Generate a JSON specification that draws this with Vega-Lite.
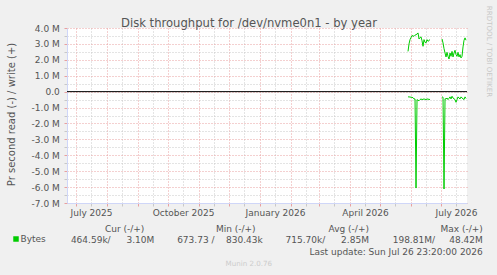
{
  "$schema": "https://vega.github.io/schema/vega-lite/v6.json",
  "width": 400,
  "height": 175,
  "autosize": {"type": "none"},
  "padding": {"left": 67, "top": 28, "right": 30, "bottom": 72},
  "background": "#F0F0F0",
  "view": {"fill": "#FFFFFF", "stroke": null},
  "config": {"font": "DejaVu Sans"},
  "data": {"values": [
    {"date": "2026-05-29T00:00:00", "value": 2530000, "dir": "write", "seg": "w1", "series": "Bytes"},
    {"date": "2026-05-30T00:00:00", "value": 3000000, "dir": "write", "seg": "w1", "series": "Bytes"},
    {"date": "2026-05-31T00:00:00", "value": 3270000, "dir": "write", "seg": "w1", "series": "Bytes"},
    {"date": "2026-06-01T00:00:00", "value": 3400000, "dir": "write", "seg": "w1", "series": "Bytes"},
    {"date": "2026-06-02T00:00:00", "value": 3520000, "dir": "write", "seg": "w1", "series": "Bytes"},
    {"date": "2026-06-03T00:00:00", "value": 3500000, "dir": "write", "seg": "w1", "series": "Bytes"},
    {"date": "2026-06-04T00:00:00", "value": 3480000, "dir": "write", "seg": "w1", "series": "Bytes"},
    {"date": "2026-06-05T00:00:00", "value": 3550000, "dir": "write", "seg": "w1", "series": "Bytes"},
    {"date": "2026-06-06T00:00:00", "value": 3580000, "dir": "write", "seg": "w1", "series": "Bytes"},
    {"date": "2026-06-07T00:00:00", "value": 3620000, "dir": "write", "seg": "w1", "series": "Bytes"},
    {"date": "2026-06-08T00:00:00", "value": 3690000, "dir": "write", "seg": "w1", "series": "Bytes"},
    {"date": "2026-06-09T00:00:00", "value": 3310000, "dir": "write", "seg": "w1", "series": "Bytes"},
    {"date": "2026-06-10T00:00:00", "value": 3400000, "dir": "write", "seg": "w1", "series": "Bytes"},
    {"date": "2026-06-11T00:00:00", "value": 3440000, "dir": "write", "seg": "w1", "series": "Bytes"},
    {"date": "2026-06-12T00:00:00", "value": 3200000, "dir": "write", "seg": "w1", "series": "Bytes"},
    {"date": "2026-06-13T00:00:00", "value": 2850000, "dir": "write", "seg": "w1", "series": "Bytes"},
    {"date": "2026-06-14T00:00:00", "value": 3270000, "dir": "write", "seg": "w1", "series": "Bytes"},
    {"date": "2026-06-15T00:00:00", "value": 3100000, "dir": "write", "seg": "w1", "series": "Bytes"},
    {"date": "2026-06-16T00:00:00", "value": 3060000, "dir": "write", "seg": "w1", "series": "Bytes"},
    {"date": "2026-06-17T00:00:00", "value": 3270000, "dir": "write", "seg": "w1", "series": "Bytes"},
    {"date": "2026-06-18T00:00:00", "value": 3160000, "dir": "write", "seg": "w1", "series": "Bytes"},
    {"date": "2026-06-19T00:00:00", "value": 3220000, "dir": "write", "seg": "w1", "series": "Bytes"},
    {"date": "2026-06-20T00:00:00", "value": 3270000, "dir": "write", "seg": "w1", "series": "Bytes"},
    {"date": "2026-07-02T00:00:00", "value": 3310000, "dir": "write", "seg": "w2", "series": "Bytes"},
    {"date": "2026-07-03T00:00:00", "value": 3060000, "dir": "write", "seg": "w2", "series": "Bytes"},
    {"date": "2026-07-04T00:00:00", "value": 2700000, "dir": "write", "seg": "w2", "series": "Bytes"},
    {"date": "2026-07-05T00:00:00", "value": 2430000, "dir": "write", "seg": "w2", "series": "Bytes"},
    {"date": "2026-07-06T00:00:00", "value": 2180000, "dir": "write", "seg": "w2", "series": "Bytes"},
    {"date": "2026-07-07T00:00:00", "value": 2470000, "dir": "write", "seg": "w2", "series": "Bytes"},
    {"date": "2026-07-08T00:00:00", "value": 2220000, "dir": "write", "seg": "w2", "series": "Bytes"},
    {"date": "2026-07-09T00:00:00", "value": 2050000, "dir": "write", "seg": "w2", "series": "Bytes"},
    {"date": "2026-07-10T00:00:00", "value": 2430000, "dir": "write", "seg": "w2", "series": "Bytes"},
    {"date": "2026-07-11T00:00:00", "value": 2220000, "dir": "write", "seg": "w2", "series": "Bytes"},
    {"date": "2026-07-12T00:00:00", "value": 2530000, "dir": "write", "seg": "w2", "series": "Bytes"},
    {"date": "2026-07-13T00:00:00", "value": 2180000, "dir": "write", "seg": "w2", "series": "Bytes"},
    {"date": "2026-07-14T00:00:00", "value": 2430000, "dir": "write", "seg": "w2", "series": "Bytes"},
    {"date": "2026-07-15T00:00:00", "value": 2600000, "dir": "write", "seg": "w2", "series": "Bytes"},
    {"date": "2026-07-16T00:00:00", "value": 2330000, "dir": "write", "seg": "w2", "series": "Bytes"},
    {"date": "2026-07-17T00:00:00", "value": 2220000, "dir": "write", "seg": "w2", "series": "Bytes"},
    {"date": "2026-07-18T00:00:00", "value": 2470000, "dir": "write", "seg": "w2", "series": "Bytes"},
    {"date": "2026-07-19T00:00:00", "value": 2180000, "dir": "write", "seg": "w2", "series": "Bytes"},
    {"date": "2026-07-20T00:00:00", "value": 2330000, "dir": "write", "seg": "w2", "series": "Bytes"},
    {"date": "2026-07-21T00:00:00", "value": 2120000, "dir": "write", "seg": "w2", "series": "Bytes"},
    {"date": "2026-07-22T00:00:00", "value": 2220000, "dir": "write", "seg": "w2", "series": "Bytes"},
    {"date": "2026-07-23T00:00:00", "value": 2810000, "dir": "write", "seg": "w2", "series": "Bytes"},
    {"date": "2026-07-24T00:00:00", "value": 3230000, "dir": "write", "seg": "w2", "series": "Bytes"},
    {"date": "2026-07-25T00:00:00", "value": 3380000, "dir": "write", "seg": "w2", "series": "Bytes"},
    {"date": "2026-07-26T00:00:00", "value": 3230000, "dir": "write", "seg": "w2", "series": "Bytes"},
    {"date": "2026-05-29T00:00:00", "value": -330000, "dir": "read", "seg": "r1", "series": "Bytes"},
    {"date": "2026-05-30T00:00:00", "value": -330000, "dir": "read", "seg": "r1", "series": "Bytes"},
    {"date": "2026-05-31T00:00:00", "value": -340000, "dir": "read", "seg": "r1", "series": "Bytes"},
    {"date": "2026-06-01T00:00:00", "value": -350000, "dir": "read", "seg": "r1", "series": "Bytes"},
    {"date": "2026-06-02T00:00:00", "value": -360000, "dir": "read", "seg": "r1", "series": "Bytes"},
    {"date": "2026-06-03T00:00:00", "value": -380000, "dir": "read", "seg": "r1", "series": "Bytes"},
    {"date": "2026-06-04T00:00:00", "value": -460000, "dir": "read", "seg": "r1", "series": "Bytes"},
    {"date": "2026-06-05T00:00:00", "value": -460000, "dir": "read", "seg": "r1", "series": "Bytes"},
    {"date": "2026-06-06T00:00:00", "value": -6060000, "dir": "read", "seg": "r1", "series": "Bytes"},
    {"date": "2026-06-07T00:00:00", "value": -500000, "dir": "read", "seg": "r1", "series": "Bytes"},
    {"date": "2026-06-08T00:00:00", "value": -550000, "dir": "read", "seg": "r1", "series": "Bytes"},
    {"date": "2026-06-09T00:00:00", "value": -570000, "dir": "read", "seg": "r1", "series": "Bytes"},
    {"date": "2026-06-10T00:00:00", "value": -500000, "dir": "read", "seg": "r1", "series": "Bytes"},
    {"date": "2026-06-11T00:00:00", "value": -460000, "dir": "read", "seg": "r1", "series": "Bytes"},
    {"date": "2026-06-12T00:00:00", "value": -500000, "dir": "read", "seg": "r1", "series": "Bytes"},
    {"date": "2026-06-13T00:00:00", "value": -480000, "dir": "read", "seg": "r1", "series": "Bytes"},
    {"date": "2026-06-14T00:00:00", "value": -460000, "dir": "read", "seg": "r1", "series": "Bytes"},
    {"date": "2026-06-15T00:00:00", "value": -480000, "dir": "read", "seg": "r1", "series": "Bytes"},
    {"date": "2026-06-16T00:00:00", "value": -500000, "dir": "read", "seg": "r1", "series": "Bytes"},
    {"date": "2026-06-17T00:00:00", "value": -470000, "dir": "read", "seg": "r1", "series": "Bytes"},
    {"date": "2026-06-18T00:00:00", "value": -460000, "dir": "read", "seg": "r1", "series": "Bytes"},
    {"date": "2026-06-19T00:00:00", "value": -500000, "dir": "read", "seg": "r1", "series": "Bytes"},
    {"date": "2026-06-20T00:00:00", "value": -480000, "dir": "read", "seg": "r1", "series": "Bytes"},
    {"date": "2026-07-02T00:00:00", "value": -330000, "dir": "read", "seg": "r2", "series": "Bytes"},
    {"date": "2026-07-03T00:00:00", "value": -350000, "dir": "read", "seg": "r2", "series": "Bytes"},
    {"date": "2026-07-04T00:00:00", "value": -6120000, "dir": "read", "seg": "r2", "series": "Bytes"},
    {"date": "2026-07-05T00:00:00", "value": -450000, "dir": "read", "seg": "r2", "series": "Bytes"},
    {"date": "2026-07-06T00:00:00", "value": -460000, "dir": "read", "seg": "r2", "series": "Bytes"},
    {"date": "2026-07-07T00:00:00", "value": -400000, "dir": "read", "seg": "r2", "series": "Bytes"},
    {"date": "2026-07-08T00:00:00", "value": -500000, "dir": "read", "seg": "r2", "series": "Bytes"},
    {"date": "2026-07-09T00:00:00", "value": -420000, "dir": "read", "seg": "r2", "series": "Bytes"},
    {"date": "2026-07-10T00:00:00", "value": -330000, "dir": "read", "seg": "r2", "series": "Bytes"},
    {"date": "2026-07-11T00:00:00", "value": -460000, "dir": "read", "seg": "r2", "series": "Bytes"},
    {"date": "2026-07-12T00:00:00", "value": -290000, "dir": "read", "seg": "r2", "series": "Bytes"},
    {"date": "2026-07-13T00:00:00", "value": -400000, "dir": "read", "seg": "r2", "series": "Bytes"},
    {"date": "2026-07-14T00:00:00", "value": -450000, "dir": "read", "seg": "r2", "series": "Bytes"},
    {"date": "2026-07-15T00:00:00", "value": -500000, "dir": "read", "seg": "r2", "series": "Bytes"},
    {"date": "2026-07-16T00:00:00", "value": -670000, "dir": "read", "seg": "r2", "series": "Bytes"},
    {"date": "2026-07-17T00:00:00", "value": -500000, "dir": "read", "seg": "r2", "series": "Bytes"},
    {"date": "2026-07-18T00:00:00", "value": -330000, "dir": "read", "seg": "r2", "series": "Bytes"},
    {"date": "2026-07-19T00:00:00", "value": -400000, "dir": "read", "seg": "r2", "series": "Bytes"},
    {"date": "2026-07-20T00:00:00", "value": -460000, "dir": "read", "seg": "r2", "series": "Bytes"},
    {"date": "2026-07-21T00:00:00", "value": -330000, "dir": "read", "seg": "r2", "series": "Bytes"},
    {"date": "2026-07-22T00:00:00", "value": -400000, "dir": "read", "seg": "r2", "series": "Bytes"},
    {"date": "2026-07-23T00:00:00", "value": -450000, "dir": "read", "seg": "r2", "series": "Bytes"},
    {"date": "2026-07-24T00:00:00", "value": -500000, "dir": "read", "seg": "r2", "series": "Bytes"},
    {"date": "2026-07-25T00:00:00", "value": -330000, "dir": "read", "seg": "r2", "series": "Bytes"},
    {"date": "2026-07-26T00:00:00", "value": -430000, "dir": "read", "seg": "r2", "series": "Bytes"}
  ]},
  "layer": [
    {
      "transform": [{"filter": "datum.dir == 'write'"}],
      "mark": {"type": "line", "strokeWidth": 1},
      "encoding": {
        "x": {
          "field": "date", "type": "temporal",
          "scale": {"domain": [{"year": 2025, "month": 6, "date": 21, "hours": 23, "minutes": 20}, {"year": 2026, "month": 7, "date": 26, "hours": 23, "minutes": 20}]},
          "axis": {
            "orient": "bottom",
            "values": [
              {"year": 2025, "month": 7, "date": 1}, {"year": 2025, "month": 7, "date": 16},
              {"year": 2025, "month": 8, "date": 1}, {"year": 2025, "month": 8, "date": 16},
              {"year": 2025, "month": 9, "date": 1}, {"year": 2025, "month": 9, "date": 16},
              {"year": 2025, "month": 10, "date": 1}, {"year": 2025, "month": 10, "date": 16},
              {"year": 2025, "month": 11, "date": 1}, {"year": 2025, "month": 11, "date": 16},
              {"year": 2025, "month": 12, "date": 1}, {"year": 2025, "month": 12, "date": 16},
              {"year": 2026, "month": 1, "date": 1}, {"year": 2026, "month": 1, "date": 16},
              {"year": 2026, "month": 2, "date": 1}, {"year": 2026, "month": 2, "date": 16},
              {"year": 2026, "month": 3, "date": 1}, {"year": 2026, "month": 3, "date": 16},
              {"year": 2026, "month": 4, "date": 1}, {"year": 2026, "month": 4, "date": 16},
              {"year": 2026, "month": 5, "date": 1}, {"year": 2026, "month": 5, "date": 16},
              {"year": 2026, "month": 6, "date": 1}, {"year": 2026, "month": 6, "date": 16},
              {"year": 2026, "month": 7, "date": 1}, {"year": 2026, "month": 7, "date": 16}
            ],
            "grid": true,
            "gridColor": {"condition": {"test": "date(datum.value) == 1", "value": "#E8A0A0"}, "value": "#C8C8C8"},
            "gridDash": [1, 2],
            "gridWidth": 1,
            "domain": true, "domainColor": "#CFD6F8", "domainWidth": 1,
            "ticks": true, "tickSize": 3,
            "tickColor": {"condition": {"test": "date(datum.value) == 1", "value": "#E8A0A0"}, "value": "#C8C8C8"},
            "labelExpr": "date(datum.value) == 16 && month(datum.value) % 3 == 0 ? timeFormat(datum.value, '%B %Y') : ''",
            "labelFontSize": 9, "labelColor": "#555555", "labelPadding": 2,
            "labelOverlap": false, "labelFlush": false, "labelBound": false, "labelAlign": "center",
            "title": [
              "Cur (-/+)\u00a0\u00a0\u00a0\u00a0\u00a0\u00a0\u00a0\u00a0\u00a0\u00a0\u00a0\u00a0\u00a0\u00a0\u00a0\u00a0\u00a0\u00a0\u00a0\u00a0\u00a0\u00a0\u00a0\u00a0\u00a0Min (-/+)\u00a0\u00a0\u00a0\u00a0\u00a0\u00a0\u00a0\u00a0\u00a0\u00a0\u00a0\u00a0\u00a0\u00a0\u00a0\u00a0\u00a0\u00a0\u00a0\u00a0\u00a0\u00a0\u00a0\u00a0\u00a0\u2006Avg (-/+)\u00a0\u00a0\u00a0\u00a0\u00a0\u00a0\u00a0\u00a0\u00a0\u00a0\u00a0\u00a0\u00a0\u00a0\u00a0\u00a0\u00a0\u00a0\u00a0\u00a0\u00a0\u00a0\u00a0\u00a0\u00a0Max (-/+)\u2006",
              "464.59k/\u00a0\u00a0\u00a0\u00a0\u00a0\u20063.10M\u00a0\u00a0\u00a0\u00a0\u00a0\u00a0\u00a0\u00a0673.73\u00a0/\u00a0\u00a0\u00a0\u00a0830.43k\u00a0\u00a0\u00a0\u00a0\u00a0\u00a0\u00a0\u00a0715.70k/\u00a0\u00a0\u00a0\u00a0\u00a0\u20062.85M\u00a0\u00a0\u00a0\u00a0\u00a0\u00a0\u00a0\u00a0\u200a198.81M/\u00a0\u00a0\u00a0\u00a0\u00a048.42M",
              "Last update: Sun Jul 26 23:20:00 2026"
            ],
            "titleX": 415.3, "titleY": 28, "titleAlign": "right", "titleBaseline": "alphabetic",
            "titleAngle": 0, "titleFontSize": 9, "titleFontWeight": "normal", "titleColor": "#555555",
            "titleLineHeight": 11.7, "titleLimit": 2000
          }
        },
        "y": {
          "field": "value", "type": "quantitative",
          "scale": {"domain": [-7000000, 4000000], "nice": false, "zero": false},
          "axis": {
            "orient": "left",
            "values": [-7000000, -6500000, -6000000, -5500000, -5000000, -4500000, -4000000, -3500000, -3000000, -2500000, -2000000, -1500000, -1000000, -500000, 0, 500000, 1000000, 1500000, 2000000, 2500000, 3000000, 3500000, 4000000],
            "grid": true,
            "gridColor": {"condition": {"test": "abs(datum.value) % 1000000 == 0", "value": "#E8A0A0"}, "value": "#C8C8C8"},
            "gridDash": [1, 2], "gridWidth": 1,
            "domain": true, "domainColor": "#CFD6F8", "domainWidth": 1,
            "ticks": true, "tickSize": 3,
            "tickColor": {"condition": {"test": "abs(datum.value) % 1000000 == 0", "value": "#E8A0A0"}, "value": "#C8C8C8"},
            "labelExpr": "datum.value == 0 ? '0.0' : (abs(datum.value) % 1000000 == 0 ? (datum.value < 0 ? '-' : '') + format(abs(datum.value) / 1000000, '.1f') + ' M' : '')",
            "labelFontSize": 9, "labelColor": "#555555", "labelPadding": 4.7,
            "labelOverlap": false, "labelFlush": false, "labelBound": false,
            "title": "Pr second read (-) / write (+)",
            "titleX": -56, "titleY": 86, "titleAngle": -90, "titleAlign": "center", "titleBaseline": "middle",
            "titleFontSize": 10, "titleFontWeight": "normal", "titleColor": "#555555"
          }
        },
        "color": {
          "field": "series", "type": "nominal",
          "scale": {"range": ["#00CC00"]},
          "legend": {
            "orient": "none", "legendX": -55.5, "legendY": 206.5, "title": null,
            "symbolType": "square", "symbolSize": 30, "symbolFillColor": "#00CC00", "symbolStrokeWidth": 0,
            "labelFontSize": 9, "labelColor": "#555555", "labelOffset": 0, "padding": 0
          }
        },
        "detail": {"field": "seg"}
      }
    },
    {
      "data": {"values": [{"line": "zero"}]},
      "mark": {"type": "rule", "color": "#000000", "strokeWidth": 1},
      "encoding": {
        "x": {
          "datum": {"year": 2025, "month": 6, "date": 21, "hours": 23, "minutes": 20}, "type": "temporal",
          "scale": {"domain": [{"year": 2025, "month": 6, "date": 21, "hours": 23, "minutes": 20}, {"year": 2026, "month": 7, "date": 26, "hours": 23, "minutes": 20}]},
          "axis": {
            "orient": "top", "grid": false, "domain": false, "ticks": false, "labels": false,
            "title": "Disk throughput for /dev/nvme0n1 - by year",
            "titleX": 181.5, "titleY": -2, "titleAlign": "center", "titleBaseline": "alphabetic", "titleAngle": 0,
            "titleFontSize": 11.6, "titleFontWeight": "normal", "titleColor": "#555555", "titleLimit": 2000
          }
        },
        "x2": {"datum": {"year": 2026, "month": 7, "date": 26, "hours": 23, "minutes": 20}},
        "y": {
          "datum": 0, "type": "quantitative",
          "scale": {"domain": [-7000000, 4000000], "nice": false, "zero": false},
          "axis": {
            "orient": "right", "grid": false, "domain": false, "ticks": false, "labels": false,
            "title": "RRDTOOL / TOBI OETIKER",
            "titleX": 21.5, "titleY": 23, "titleAngle": 90, "titleAlign": "center", "titleBaseline": "middle",
            "titleFontSize": 7.1, "titleFontWeight": "normal", "titleColor": "#C8C8C8", "titleLimit": 2000
          }
        }
      }
    },
    {
      "transform": [{"filter": "datum.dir == 'read'"}],
      "mark": {"type": "line", "strokeWidth": 1, "color": "#00CC00"},
      "encoding": {
        "x": {
          "field": "date", "type": "temporal",
          "scale": {"domain": [{"year": 2025, "month": 6, "date": 21, "hours": 23, "minutes": 20}, {"year": 2026, "month": 7, "date": 26, "hours": 23, "minutes": 20}]},
          "axis": {
            "orient": "bottom", "grid": false, "domain": false, "ticks": false, "labels": false,
            "title": "Munin 2.0.76",
            "titleX": 181.3, "titleY": 62.7, "titleAlign": "center", "titleBaseline": "alphabetic", "titleAngle": 0,
            "titleFontSize": 7.1, "titleFontWeight": "normal", "titleColor": "#CCCCCC", "titleLimit": 2000
          }
        },
        "y": {
          "field": "value", "type": "quantitative",
          "scale": {"domain": [-7000000, 4000000], "nice": false, "zero": false},
          "axis": null
        },
        "detail": {"field": "seg"}
      }
    }
  ],
  "resolve": {"axis": {"x": "independent", "y": "independent"}}
}
